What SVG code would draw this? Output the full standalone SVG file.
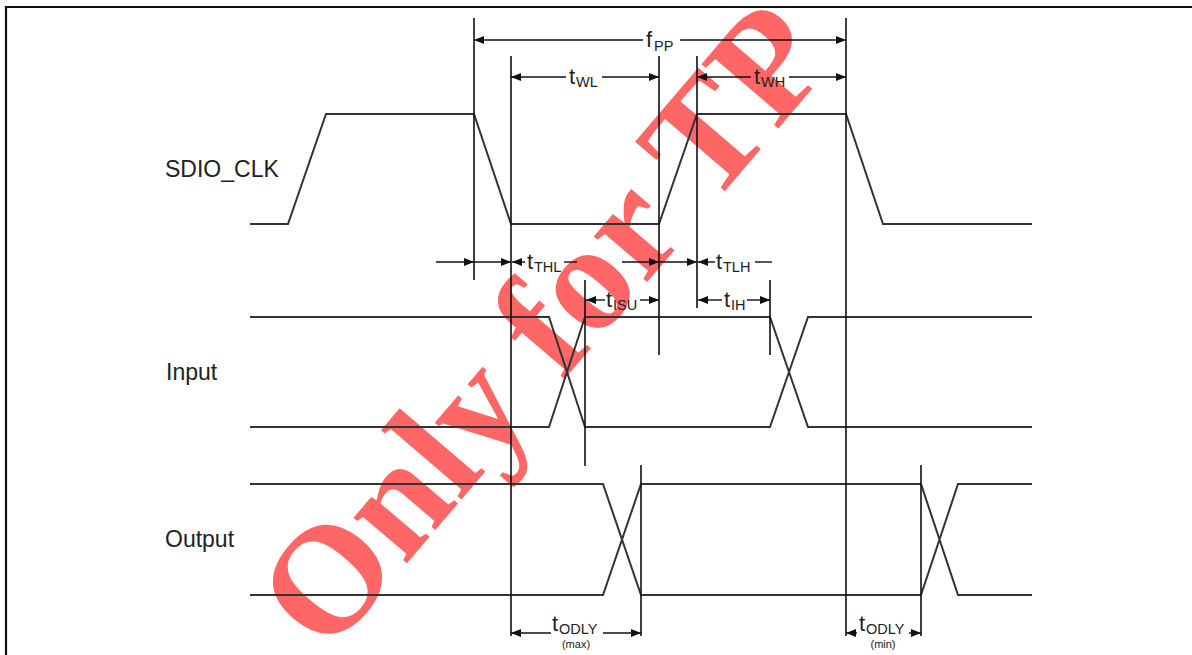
<svg xmlns="http://www.w3.org/2000/svg" width="1192" height="655" viewBox="0 0 1192 655">
<defs>
<marker id="ah" markerUnits="userSpaceOnUse" markerWidth="10" markerHeight="8" refX="10" refY="4" orient="auto-start-reverse">
<path d="M0,0 L10,4 L0,8 z" fill="#111"/>
</marker>
<style>
.sig{fill:none;stroke:#333;stroke-width:2;stroke-linejoin:miter}
.vl{stroke:#111;stroke-width:1.6;fill:none}
.dim{stroke:#111;stroke-width:1.4;fill:none}
.lbl{font-family:"Liberation Sans",Arial,sans-serif;font-size:23px;fill:#222}
.t{font-family:"Liberation Sans",Arial,sans-serif;font-size:22px;fill:#222}
.sub{font-family:"Liberation Sans",Arial,sans-serif;font-size:14.5px;fill:#222}
.mm{font-family:"Liberation Sans",Arial,sans-serif;font-size:11px;fill:#222;text-anchor:middle}
.wm{font-family:"Liberation Serif","Times New Roman",serif;font-weight:bold;font-size:153px;fill:#ff0000;fill-opacity:0.6}
</style>
</defs>
<rect width="1192" height="655" fill="#fff"/>
<g id="watermark">
<text class="wm" transform="translate(327,657) rotate(-49.5)">Only for TP</text>
</g>
<path id="frame" d="M6,656 V7 H1193" fill="none" stroke="#111" stroke-width="2.2"/>
<g id="labels">
<text class="lbl" x="165" y="177">SDIO_CLK</text>
<text class="lbl" x="166" y="380">Input</text>
<text class="lbl" x="165" y="547">Output</text>
</g>
<g id="signals">
<polyline id="sdio_clk" class="sig" points="250,224 288,224 326,114 474,114 511,224 659,224 697,114 846,114 883,224 1032,224"/>
<path id="input" class="sig" d="M250,317 H549 L585,427 H770 L808,317 H1032 M250,427 H549 L585,317 H770 L808,427 H1032"/>
<path id="output" class="sig" d="M250,484 H603 L641,595 H921 L958,484 H1032 M250,595 H603 L641,484 H921 L958,595 H1032"/>
</g>
<g id="connectors">
<path class="vl" d="M474,18 V280 M511,56 V636 M659,56 V355 M697,56 V308 M846,18 V636 M585,280 V466 M770,280 V355 M641,465 V636 M921,465 V636"/>
<line class="dim" x1="474" y1="40" x2="643" y2="40" marker-start="url(#ah)"/>
<line class="dim" x1="680" y1="40" x2="846" y2="40" marker-end="url(#ah)"/>
<line class="dim" x1="511" y1="77" x2="566" y2="77" marker-start="url(#ah)"/>
<line class="dim" x1="602" y1="77" x2="659" y2="77" marker-end="url(#ah)"/>
<line class="dim" x1="697" y1="77" x2="751" y2="77" marker-start="url(#ah)"/>
<line class="dim" x1="789" y1="77" x2="846" y2="77" marker-end="url(#ah)"/>
<line class="dim" x1="436" y1="262" x2="474" y2="262" marker-end="url(#ah)"/>
<line class="dim" x1="474" y1="262" x2="511" y2="262" marker-end="url(#ah)"/>
<line class="dim" x1="512" y1="262" x2="525" y2="262" marker-start="url(#ah)"/>
<line class="dim" x1="564" y1="262" x2="577" y2="262"/>
<line class="dim" x1="622" y1="262" x2="659" y2="262" marker-end="url(#ah)"/>
<line class="dim" x1="659" y1="262" x2="697" y2="262" marker-end="url(#ah)"/>
<line class="dim" x1="698" y1="262" x2="715" y2="262" marker-start="url(#ah)"/>
<line class="dim" x1="755" y1="262" x2="772" y2="262"/>
<line class="dim" x1="586" y1="300" x2="605" y2="300" marker-start="url(#ah)"/>
<line class="dim" x1="640" y1="300" x2="659" y2="300" marker-end="url(#ah)"/>
<line class="dim" x1="698" y1="300" x2="722" y2="300" marker-start="url(#ah)"/>
<line class="dim" x1="747" y1="300" x2="770" y2="300" marker-end="url(#ah)"/>
<line class="dim" x1="511" y1="633" x2="551" y2="633" marker-start="url(#ah)"/>
<line class="dim" x1="603" y1="633" x2="641" y2="633" marker-end="url(#ah)"/>
<line class="dim" x1="846" y1="633" x2="857" y2="633" marker-start="url(#ah)"/>
<line class="dim" x1="909" y1="633" x2="921" y2="633" marker-end="url(#ah)"/>
</g>
<g id="timing-labels">
<text class="t" x="646" y="47">f</text><text class="sub" x="654" y="51">PP</text>
<text class="t" x="569" y="84">t</text><text class="sub" x="576" y="87">WL</text>
<text class="t" x="754" y="84">t</text><text class="sub" x="761" y="87">WH</text>
<text class="t" x="527" y="269">t</text><text class="sub" x="534" y="272">THL</text>
<text class="t" x="716" y="269">t</text><text class="sub" x="723" y="272">TLH</text>
<text class="t" x="606" y="307">t</text><text class="sub" x="613" y="310">ISU</text>
<text class="t" x="724" y="307">t</text><text class="sub" x="731" y="310">IH</text>
<text class="t" x="552" y="631">t</text><text class="sub" x="559" y="634">ODLY</text>
<text class="mm" x="576" y="648">(max)</text>
<text class="t" x="859" y="631">t</text><text class="sub" x="866" y="634">ODLY</text>
<text class="mm" x="883" y="648">(min)</text>
</g>
</svg>
